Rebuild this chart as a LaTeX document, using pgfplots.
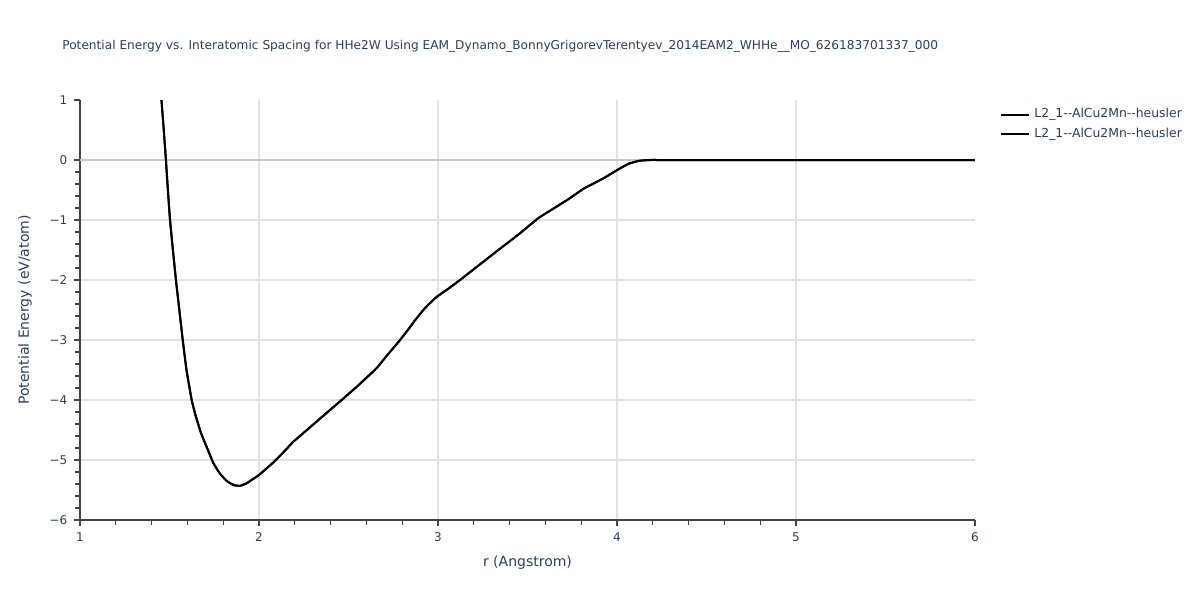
\documentclass[border=0pt]{standalone}
\usepackage{fontspec}
\setmainfont{DejaVu Sans}
\usepackage{pgfplots}
\usepackage{pgfplotstable}
\pgfplotsset{compat=1.18}
\definecolor{txt}{HTML}{2A3F5F}
\definecolor{gridc}{HTML}{E2E2E2}
\definecolor{zeroc}{HTML}{C8C8C8}
\definecolor{axc}{HTML}{444444}
\pgfplotstableread{
r E
1.455 1.0
1.468 0.5
1.480 0.0
1.491 -0.5
1.503 -1.0
1.519 -1.5
1.536 -2.0
1.555 -2.5
1.574 -3.0
1.595 -3.5
1.624 -4.0
1.645 -4.25
1.676 -4.55
1.710 -4.80
1.745 -5.05
1.780 -5.22
1.820 -5.35
1.860 -5.42
1.895 -5.43
1.930 -5.39
1.960 -5.33
2.000 -5.25
2.080 -5.04
2.140 -4.86
2.190 -4.70
2.229 -4.60
2.341 -4.31
2.450 -4.03
2.546 -3.78
2.600 -3.63
2.657 -3.47
2.720 -3.24
2.788 -3.00
2.840 -2.80
2.872 -2.67
2.918 -2.50
2.950 -2.40
2.993 -2.28
3.060 -2.14
3.123 -2.00
3.230 -1.75
3.337 -1.50
3.450 -1.24
3.560 -0.97
3.626 -0.845
3.730 -0.65
3.812 -0.48
3.870 -0.39
3.933 -0.29
4.008 -0.155
4.063 -0.065
4.100 -0.030
4.128 -0.012
4.184 0.0
4.300 0.0
6.000 0.0
}\data
\begin{document}
\begin{tikzpicture}[x=1pt,y=1pt]
\path[use as bounding box] (0,0) rectangle (600,300);
\node[anchor=west, text=txt, font=\fontsize{6.08}{8}\selectfont, inner sep=0] at (31,277)
 {Potential Energy vs. Interatomic Spacing for HHe2W Using EAM\_Dynamo\_BonnyGrigorevTerentyev\_2014EAM2\_WHHe\_\_MO\_626183701337\_000};
\begin{axis}[
 at={(40pt,40pt)}, anchor=south west,
 scale only axis, width=447.5pt, height=210pt,
 xmin=1, xmax=6, ymin=-6, ymax=1,
 axis x line*=bottom, axis y line*=left,
 axis line style={-, color=axc, line width=0.55pt},
 xtick={1,2,3,4,5}, extra x ticks={6}, extra x tick labels={6},
 ytick={-6,-5,-4,-3,-2,-1,0}, yticklabels={−6,−5,−4,−3,−2,−1,0},
 extra y ticks={1}, extra y tick labels={1},
 extra tick style={grid=none},
 minor x tick num=4, minor y tick num=4,
 tick align=outside, major tick length=2.8pt, minor tick length=2.5pt,
 tick style={color=axc, line width=0.55pt},
 grid=major, major grid style={color=gridc, line width=0.7pt},
 ticklabel style={text=txt, font=\fontsize{6}{7}\selectfont},
 /pgf/number format/assume math mode=true,
 xlabel={r (Angstrom)}, ylabel={Potential Energy (eV/atom)},
 label style={text=txt, font=\fontsize{7}{8}\selectfont},
 xlabel style={at={(axis description cs:0.5,-0.1024)}, anchor=center},
 ylabel style={at={(axis description cs:-0.0615,0.5)}, anchor=center},
 legend style={at={(1.028,0.986)}, anchor=north west, draw=none, fill=none,
   text=txt, font=\fontsize{6.2}{7}\selectfont, row sep=1.5pt, inner sep=0pt,
   nodes={inner sep=1pt}},
 legend cell align=left,
 legend image code/.code={\draw[#1] (0pt,0pt) -- (14pt,0pt);},
 clip=true,
]
\addplot[color=zeroc, line width=0.8pt, forget plot] coordinates {(1,0) (6,0)};
\addplot[black, line width=1pt, smooth, tension=0.25] table[x=r,y=E] {\data};
\addlegendentry{\hspace{1pt}L2\_1-{}-AlCu2Mn-{}-heusler}
\addplot[black, line width=1pt, smooth, tension=0.25] table[x=r,y=E] {\data};
\addlegendentry{\hspace{1pt}L2\_1-{}-AlCu2Mn-{}-heusler}
\end{axis}
\end{tikzpicture}
\end{document}
